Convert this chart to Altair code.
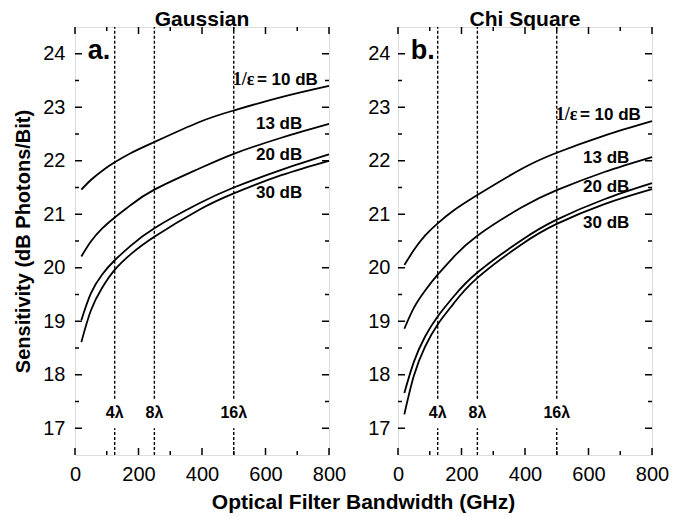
import altair as alt
import pandas as pd

# ---------------- data ----------------
bandwidth = [20, 50, 85, 125, 175, 250, 390, 500, 650, 800]
series = ["10 dB", "13 dB", "20 dB", "30 dB"]

gauss_10 = [21.46, 21.64, 21.81, 21.97, 22.14, 22.35, 22.72, 22.94, 23.19, 23.40]
gauss_13 = [20.21, 20.49, 20.73, 20.94, 21.17, 21.46, 21.85, 22.13, 22.43, 22.69]
gauss_20 = [19.02, 19.52, 19.87, 20.14, 20.41, 20.74, 21.20, 21.50, 21.83, 22.12]
gauss_30 = [18.61, 19.20, 19.62, 19.96, 20.25, 20.58, 21.08, 21.39, 21.73, 22.00]

chi_10 = [20.05, 20.33, 20.60, 20.83, 21.07, 21.36, 21.85, 22.15, 22.47, 22.74]
chi_13 = [18.86, 19.25, 19.57, 19.87, 20.20, 20.60, 21.13, 21.45, 21.79, 22.07]
chi_20 = [17.66, 18.24, 18.71, 19.09, 19.46, 19.91, 20.52, 20.90, 21.28, 21.58]
chi_30 = [17.26, 17.98, 18.52, 18.94, 19.33, 19.81, 20.44, 20.82, 21.19, 21.47]

panel_titles = ["Gaussian", "Chi Square"]
panel_letters = ["a.", "b."]
curve_labels = ["= 10 dB", "13 dB", "20 dB", "30 dB"]
eps_label = "1/ε"

channel_bw = [125, 250, 500]
channel_labels = ["4λ", "8λ", "16λ"]

x_major = [0, 200, 400, 600, 800]
x_minor = [100, 300, 500, 700]
y_major = [17, 18, 19, 20, 21, 22, 23, 24]
y_minor = [17.5, 18.5, 19.5, 20.5, 21.5, 22.5, 23.5]
x_domain = [0, 800]
y_domain = [16.5, 24.5]

# annotation anchors (data units)
label_x = {"Gaussian": [573, 570, 570, 570], "Chi Square": [573, 583, 583, 583]}
label_y = {"Gaussian": [23.51, 22.68, 22.10, 21.39], "Chi Square": [22.85, 22.06, 21.51, 20.84]}
eps_x = 565
letter_x, letter_y = 40, 24.06
channel_label_y = 17.28
gap_lo, gap_hi = 17.0, 17.55

# ---------------- styling ----------------
W, H = 254, 428
FONT = "Liberation Sans"
SERIF = "Liberation Serif"
MAJ, MIN = 7, 4

xs = alt.Scale(domain=x_domain, nice=False, zero=False)
ys = alt.Scale(domain=y_domain, nice=False, zero=False)


def make_panel(idx, curves):
    name = panel_titles[idx]
    xaxis = alt.Axis(
        values=x_major, ticks=False, domain=False, grid=False,
        labelFontSize=20, labelFont=FONT, labelColor="black", labelPadding=9,
        labelFlush=False, labelOverlap=False,
        title="Optical Filter Bandwidth (GHz)" if idx == 0 else None,
        titleFont=FONT, titleFontSize=21, titleFontWeight="bold", titleColor="black",
        titlePadding=7, titleX=288,
    )
    yaxis = alt.Axis(
        values=y_major, ticks=False, domain=False, grid=False,
        labelFontSize=20, labelFont=FONT, labelColor="black",
        labelPadding=10 if idx == 0 else 8,
        labelFlush=False, labelOverlap=False,
        title="Sensitivity (dB Photons/Bit)" if idx == 0 else None,
        titleFont=FONT, titleFontSize=20, titleFontWeight="bold", titleColor="black",
        titlePadding=9,
    )

    def X(f):
        return alt.X(f, type="quantitative", scale=xs, axis=xaxis)

    def Y(f):
        return alt.Y(f, type="quantitative", scale=ys, axis=yaxis)

    rows = []
    for s, vals in zip(series, curves):
        for xv, yv in zip(bandwidth, vals):
            rows.append({"x": xv, "y": yv, "s": s})
    df = pd.DataFrame(rows)

    lines = alt.Chart(df).mark_line(color="black", strokeWidth=1.8, interpolate="natural").encode(
        x=X("x"), y=Y("y"), detail="s:N"
    )

    seg_rows = []
    for b in channel_bw:
        seg_rows.append({"x": b, "y": y_domain[0], "y2": gap_lo})
        seg_rows.append({"x": b, "y": gap_hi, "y2": y_domain[1]})
    dashes = alt.Chart(pd.DataFrame(seg_rows)).mark_rule(
        color="black", strokeWidth=1.4, strokeDash=[3, 2]
    ).encode(x=X("x"), y=Y("y"), y2="y2")

    ch_df = pd.DataFrame({"x": channel_bw, "y": [channel_label_y] * 3, "t": channel_labels})
    ch_text = alt.Chart(ch_df).mark_text(
        font=FONT, fontSize=16, fontWeight="bold", align="center", baseline="middle", color="black"
    ).encode(x=X("x"), y=Y("y"), text="t:N")

    lab_df = pd.DataFrame({"x": label_x[name], "y": label_y[name], "t": curve_labels})
    lab_text = alt.Chart(lab_df).mark_text(
        font=FONT, fontSize=17, fontWeight="bold", align="left", baseline="middle", color="black"
    ).encode(x=X("x"), y=Y("y"), text="t:N")

    eps_df = pd.DataFrame({"x": [eps_x], "y": [label_y[name][0]], "t": [eps_label]})
    eps_text = alt.Chart(eps_df).mark_text(
        font=SERIF, fontSize=18, fontWeight="bold", align="right", baseline="middle", color="black"
    ).encode(x=X("x"), y=Y("y"), text="t:N")

    let_df = pd.DataFrame({"x": [letter_x], "y": [letter_y], "t": [panel_letters[idx]]})
    let_text = alt.Chart(let_df).mark_text(
        font=FONT, fontSize=27, fontWeight="bold", align="left", baseline="middle", color="black"
    ).encode(x=X("x"), y=Y("y"), text="t:N")

    tick_layers = []
    for vals, ln in ((x_major, MAJ), (x_minor, MIN)):
        d = pd.DataFrame({"x": vals})
        tick_layers.append(alt.Chart(d).mark_rule(color="black", strokeWidth=1.5).encode(
            x=X("x"), y=alt.value(H), y2=alt.value(H - ln)))
        tick_layers.append(alt.Chart(d).mark_rule(color="black", strokeWidth=1.5).encode(
            x=X("x"), y=alt.value(0), y2=alt.value(ln)))
    for vals, ln in ((y_major, MAJ), (y_minor, MIN)):
        d = pd.DataFrame({"y": vals})
        tick_layers.append(alt.Chart(d).mark_rule(color="black", strokeWidth=1.5).encode(
            y=Y("y"), x=alt.value(0), x2=alt.value(ln)))
        tick_layers.append(alt.Chart(d).mark_rule(color="black", strokeWidth=1.5).encode(
            y=Y("y"), x=alt.value(W), x2=alt.value(W - ln)))

    return alt.layer(lines, dashes, ch_text, lab_text, eps_text, let_text, *tick_layers).properties(
        width=W, height=H,
        title=alt.TitleParams(name, font=FONT, fontSize=21, fontWeight="bold", color="black",
                              anchor="middle", offset=-4),
    )


left = make_panel(0, [gauss_10, gauss_13, gauss_20, gauss_30])
right = make_panel(1, [chi_10, chi_13, chi_20, chi_30])

chart = alt.hconcat(left, right, spacing=69, bounds="flush").properties(
    padding={"left": 5, "top": 0, "right": 5, "bottom": 0}
).configure_view(stroke="black", strokeWidth=1.8).configure(background="white")

chart.save("out.html", embed_options={"renderer": "svg", "actions": False})
